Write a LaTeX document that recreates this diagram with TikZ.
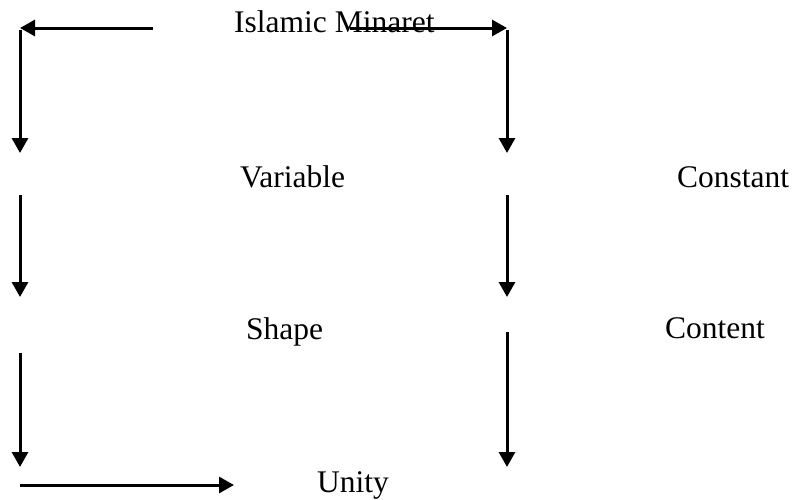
\documentclass[tikz,border=0pt]{standalone}
\usepackage{fontspec}
\setmainfont{Liberation Serif}
\usetikzlibrary{arrows.meta}
\begin{document}
\begin{tikzpicture}[x=1pt,y=-1pt,
  lbl/.style={anchor=base west,inner sep=0pt,font=\fontsize{31.5}{38}\selectfont},
  arr/.style={line width=3pt,-{Triangle[length=15pt,width=16pt]}}]
\useasboundingbox (0,0) rectangle (792,499);
% texts
\node[lbl] (isl) at (234,32) {Islamic Minaret};
\node[lbl] (var) at (240,187) {Variable};
\node[lbl] (con) at (677,187) {Constant};
\node[lbl] (sha) at (246,339) {Shape};
\node[lbl] (cnt) at (665,338) {Content};
\node[lbl] (uni) at (317,492) {Unity};
% coordinates
\coordinate (tls) at (153,28);
\coordinate (tl) at (20,28);
\coordinate (trs) at (350,28);
\coordinate (tr) at (507,28);
\coordinate (l1) at (20,153);
\coordinate (r1) at (507,153);
\coordinate (l2a) at (20,195);
\coordinate (l2b) at (20,297);
\coordinate (r2a) at (507,195);
\coordinate (r2b) at (507,297);
\coordinate (l3a) at (20,353);
\coordinate (l3b) at (20,467);
\coordinate (r3a) at (507,332);
\coordinate (r3b) at (507,467);
\coordinate (ba) at (20,485);
\coordinate (bb) at (234,485);
% connectors
\draw[arr] (tls) -- (tl);
\draw[arr] ([yshift=-1.5pt]tl) -- (l1);
\draw[arr] (trs) -- (tr);
\draw[arr] ([yshift=-1.5pt]tr) -- (r1);
\draw[arr] (l2a) -- (l2b);
\draw[arr] (r2a) -- (r2b);
\draw[arr] (l3a) -- (l3b);
\draw[arr] (r3a) -- (r3b);
\draw[arr] (ba) -- (bb);
\end{tikzpicture}
\end{document}
